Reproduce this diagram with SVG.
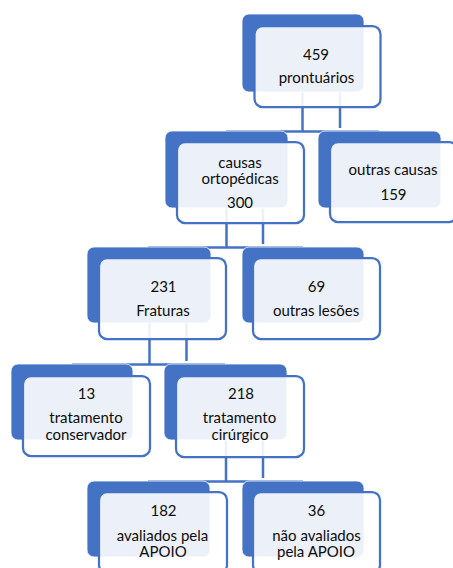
<svg xmlns="http://www.w3.org/2000/svg" width="453" height="568" viewBox="0 0 453 568">
<style>
.back{fill:#4472C4;stroke:#ffffff;stroke-width:0.8}
.front{fill:#ffffff;fill-opacity:0.9;stroke:#4472C4;stroke-width:2.25}
.t{font-family:Lato,"Open Sans",sans-serif;font-size:15px;fill:#0d0d0d;text-anchor:middle}
.conn line{stroke:#4472C4;stroke-width:2.5}
</style>
<rect width="453" height="568" fill="#ffffff"/>
<g id="connectors" class="conn">
  <line x1="302.5" y1="92" x2="302.5" y2="132"/>
  <line x1="340" y1="92" x2="340" y2="128"/>
  <line x1="226" y1="131.5" x2="379" y2="131.5"/>
  <line x1="226.5" y1="208" x2="226.5" y2="248"/>
  <line x1="263" y1="208" x2="263" y2="244"/>
  <line x1="148" y1="247.5" x2="303" y2="247.5"/>
  <line x1="149.5" y1="323" x2="149.5" y2="365"/>
  <line x1="186.5" y1="323" x2="186.5" y2="361"/>
  <line x1="72" y1="364.5" x2="225" y2="364.5"/>
  <line x1="226" y1="440" x2="226" y2="482"/>
  <line x1="263" y1="440" x2="263" y2="478"/>
  <line x1="148" y1="481.5" x2="303" y2="481.5"/>
</g>
<g id="n1">
  <rect class="back" x="242" y="14" width="122" height="78" rx="7"/>
  <rect class="front" x="254.5" y="26" width="126" height="81" rx="8"/>
  <text class="t" x="316" y="60">459</text>
  <text class="t" x="316.5" y="82.5">prontuários</text>
</g>
<g id="n2">
  <rect class="back" x="165" y="131" width="123" height="77" rx="7"/>
  <rect class="front" x="177" y="142" width="127" height="81" rx="8"/>
  <text class="t" x="240" y="167.5">causas</text>
  <text class="t" x="240" y="184.3">ortopédicas</text>
  <text class="t" x="240" y="208.3">300</text>
</g>
<g id="n3">
  <rect class="back" x="318" y="131" width="123" height="77" rx="7"/>
  <rect class="front" x="330" y="142" width="127" height="80" rx="8"/>
  <text class="t" x="393" y="175">outras causas</text>
  <text class="t" x="393.5" y="200">159</text>
</g>
<g id="n4">
  <rect class="back" x="87" y="247" width="124" height="76" rx="7"/>
  <rect class="front" x="99" y="258" width="127" height="81" rx="8"/>
  <text class="t" x="163.5" y="292.3">231</text>
  <text class="t" x="163" y="316">Fraturas</text>
</g>
<g id="n5">
  <rect class="back" x="242" y="247" width="122" height="76" rx="7"/>
  <rect class="front" x="253" y="258" width="127" height="81" rx="8"/>
  <text class="t" x="316.5" y="292.3">69</text>
  <text class="t" x="316" y="316">outras lesões</text>
</g>
<g id="n6">
  <rect class="back" x="11" y="364" width="122" height="76" rx="7"/>
  <rect class="front" x="23" y="376" width="127" height="80" rx="8"/>
  <text class="t" x="86.5" y="399.3">13</text>
  <text class="t" x="86" y="423.3">tratamento</text>
  <text class="t" x="86" y="440">conservador</text>
</g>
<g id="n7">
  <rect class="back" x="164" y="364" width="123" height="76" rx="7"/>
  <rect class="front" x="176" y="376" width="128" height="81" rx="8"/>
  <text class="t" x="241" y="399.3">218</text>
  <text class="t" x="239.5" y="423.3">tratamento</text>
  <text class="t" x="240" y="440">cirúrgico</text>
</g>
<g id="n8">
  <rect class="back" x="87" y="481" width="123" height="76" rx="7"/>
  <rect class="front" x="99" y="492" width="128" height="81" rx="8"/>
  <text class="t" x="163.5" y="516">182</text>
  <text class="t" x="162.5" y="540.7">avaliados pela</text>
  <text class="t" x="163" y="557.3">APOIO</text>
</g>
<g id="n9">
  <rect class="back" x="242" y="481" width="122" height="76" rx="7"/>
  <rect class="front" x="253" y="492" width="127" height="81" rx="8"/>
  <text class="t" x="316.5" y="516">36</text>
  <text class="t" x="316.5" y="540.7">não avaliados</text>
  <text class="t" x="316" y="557.3">pela APOIO</text>
</g>
</svg>
